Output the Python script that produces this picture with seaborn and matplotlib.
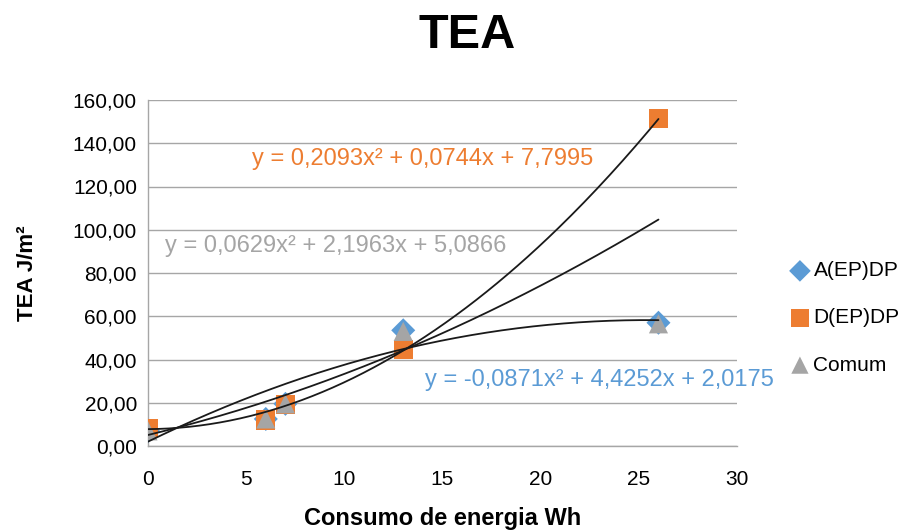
import numpy as np
import pandas as pd
import matplotlib
matplotlib.use("Agg")
import matplotlib.pyplot as plt
import seaborn as sns

# ---- data ----
x_vals = [0, 6, 7, 13, 26]
a_vals = [7.0, 12.5, 19.5, 53.5, 57.0]      # A(EP)DP
d_vals = [8.0, 12.0, 19.0, 44.5, 151.5]     # D(EP)DP
c_vals = [7.0, 12.5, 19.5, 53.0, 56.5]      # Comum
series_names = ["A(EP)DP", "D(EP)DP", "Comum"]
colors = ["#5B9BD5", "#ED7D31", "#A5A5A5"]
markers = ["D", "s", "^"]
# trendline coefficients (a, b, c) for y = a x^2 + b x + c
coef_a = [-0.0871, 4.4252, 2.0175]
coef_d = [0.2093, 0.0744, 7.7995]
coef_c = [0.0629, 2.1963, 5.0866]
eq_a = "y = -0,0871x² + 4,4252x + 2,0175"
eq_d = "y = 0,2093x² + 0,0744x + 7,7995"
eq_c = "y = 0,0629x² + 2,1963x + 5,0866"
x_ticks = [0, 5, 10, 15, 20, 25, 30]
y_ticks = [0, 20, 40, 60, 80, 100, 120, 140, 160]

sns.set_theme(style="white")
plt.rcParams["font.family"] = ["Liberation Sans", "DejaVu Sans"]
plt.rcParams["text.color"] = "black"
plt.rcParams["axes.labelcolor"] = "black"
plt.rcParams["xtick.color"] = "black"
plt.rcParams["ytick.color"] = "black"

df = pd.DataFrame({
    "x": x_vals * 3,
    "y": a_vals + d_vals + c_vals,
    "serie": sum([[n] * len(x_vals) for n in series_names], []),
})

fig = plt.figure(figsize=(9.08, 5.32), dpi=100)
ax = fig.add_axes([148 / 908, (532 - 446) / 532, (737 - 148) / 908, (446 - 100) / 532])

sizes = {"A(EP)DP": 150, "D(EP)DP": 190, "Comum": 190}
for name, col, mk in zip(series_names, colors, markers):
    sub = df[df["serie"] == name]
    sns.scatterplot(data=sub, x="x", y="y", ax=ax, color=col, marker=mk,
                    s=sizes[name], edgecolor="none", label=name, zorder=3)

xx = np.linspace(0, 26, 200)
for cf in (coef_a, coef_d, coef_c):
    ax.plot(xx, np.polyval(cf, xx), color="#1a1a1a", lw=1.3, zorder=4)

ax.set_xlim(0, 30)
ax.set_ylim(0, 160)
ax.set_xticks(x_ticks)
ax.set_yticks(y_ticks)
ax.set_xticklabels([str(v) for v in x_ticks], fontsize=15)
ax.set_yticklabels([f"{v:.2f}".replace(".", ",") for v in y_ticks], fontsize=15)
ax.tick_params(axis="y", length=0, pad=8)
ax.tick_params(axis="x", length=0, pad=17)
ax.grid(axis="y", color="#A6A6A6", lw=1)
ax.set_axisbelow(True)
for s in ["top", "right"]:
    ax.spines[s].set_visible(False)
for s in ["left", "bottom"]:
    ax.spines[s].set_color("#A6A6A6")
    ax.spines[s].set_linewidth(1)

ax.set_xlabel("Consumo de energia Wh", fontsize=17, fontweight="bold", labelpad=13)
ax.set_ylabel("TEA J/m²", fontsize=16, fontweight="bold", labelpad=25)
fig.text(467 / 908, 1 - 35 / 532, "TEA", ha="center", va="center",
         fontsize=35, fontweight="bold")

ax.text(5.3, 132.5, eq_d, color="#ED7D31", fontsize=17, ha="left", va="center", clip_on=False)
ax.text(0.85, 92.5, eq_c, color="#A5A5A5", fontsize=17, ha="left", va="center", clip_on=False)
ax.text(14.1, 30.5, eq_a, color="#5B9BD5", fontsize=17, ha="left", va="center", clip_on=False)

leg = ax.legend(loc="center left", bbox_to_anchor=(1.075, 0.37), frameon=False,
                fontsize=15, handletextpad=0.15, labelspacing=1.35, markerscale=0.9,
                handlelength=1.0, borderaxespad=0)

fig.savefig("out.png", dpi=100)
